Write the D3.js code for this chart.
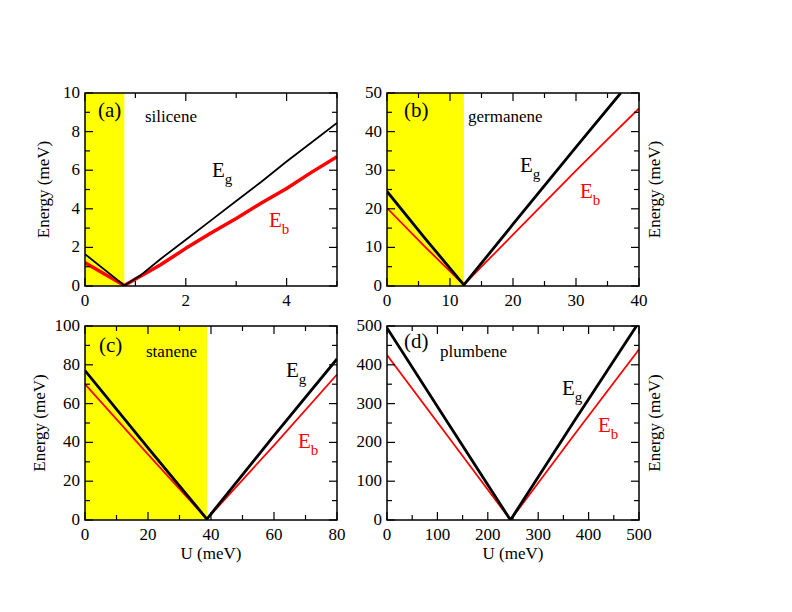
<!DOCTYPE html>
<html>
<head>
<meta charset="utf-8">
<script src="https://cdn.jsdelivr.net/npm/d3@7"></script>
<style>
  body { margin: 0; background: #fff; }
  svg { display: block; }
</style>
</head>
<body>
<svg id="chart" width="792" height="612" font-family="'Liberation Serif', 'Times New Roman', serif"></svg>
<script>
// values (U and energies in meV)
var siliceneEgU = [0, 0.78, 1.1, 1.5, 2.0, 2.5, 3.0, 3.5, 4.0, 4.5, 5.0];
var siliceneEg  = [1.65, 0.03, 0.55, 1.4, 2.4, 3.4, 4.4, 5.4, 6.45, 7.45, 8.45];
var siliceneEbU = [0, 0.78, 1.5, 2.0, 2.5, 3.0, 3.5, 4.0, 4.5, 5.0];
var siliceneEb  = [1.2, 0.03, 1.1, 1.95, 2.75, 3.5, 4.3, 5.05, 5.9, 6.7];

var germaneneEgU = [0, 6, 12.2, 20, 30, 37.1];
var germaneneEg  = [24.5, 12.4, 0.3, 16, 36, 50];
var germaneneEbU = [0, 6, 12.2, 15, 20, 25, 30, 35, 40];
var germaneneEb  = [20.2, 10.2, 0.3, 5, 13.3, 21.6, 29.9, 38, 46];

var staneneU  = [0, 20, 38.7, 60, 80];
var staneneEg = [77, 37.2, 0.5, 43.5, 83];
var staneneEb = [70, 33.8, 0.5, 38.5, 75];

var plumbeneU  = [0, 120, 245, 370, 495, 500];
var plumbeneEg = [495, 252, 0, 252, 500, 510];
var plumbeneEb = [425, 217, 0, 217, 431, 440];

var xTicksA = [0, 1, 2, 3, 4, 5],   yTicksA = [0, 1, 2, 3, 4, 5, 6, 7, 8, 9, 10];
var xTicksB = [0, 5, 10, 15, 20, 25, 30, 35, 40], yTicksB = [0, 5, 10, 15, 20, 25, 30, 35, 40, 45, 50];
var xTicksC = [0, 10, 20, 30, 40, 50, 60, 70, 80], yTicksC = [0, 10, 20, 30, 40, 50, 60, 70, 80, 90, 100];
var xTicksD = [0, 50, 100, 150, 200, 250, 300, 350, 400, 450, 500], yTicksD = [0, 50, 100, 150, 200, 250, 300, 350, 400, 450, 500];

var panelTags  = ["(a)", "(b)", "(c)", "(d)"];
var panelNames = ["silicene", "germanene", "stanene", "plumbene"];
var yellowEnd  = [0.78, 12.2, 38.7, null];

var svg = d3.select("#chart");

function zip(u, e) {
  return u.map(function(d, i) { return [d, e[i]]; });
}

//Draws one panel of the figure
function drawPanel(p) {
  var x = d3.scaleLinear().domain([p.xTicks[0], p.xTicks[p.xTicks.length - 1]]).range([p.left, p.right]);
  var y = d3.scaleLinear().domain([p.yTicks[0], p.yTicks[p.yTicks.length - 1]]).range([p.bottom, p.top]);
  var g = svg.append("g");

  var clipId = "clip" + p.idx;
  g.append("clipPath").attr("id", clipId).append("rect")
    .attr("x", p.left).attr("y", p.top)
    .attr("width", p.right - p.left).attr("height", p.bottom - p.top);

  if (p.yellow != null) {
    g.append("rect")
      .attr("x", x(0)).attr("y", p.top)
      .attr("width", x(p.yellow) - x(0)).attr("height", p.bottom - p.top)
      .attr("fill", "#ffff00");
  }

  var line = d3.line().x(function(d) { return x(d[0]); }).y(function(d) { return y(d[1]); });
  g.append("path").datum(p.eb)
    .attr("d", line).attr("fill", "none").attr("stroke", "#ff0000")
    .attr("stroke-width", p.ebWidth).attr("stroke-linejoin", "round")
    .attr("clip-path", "url(#" + clipId + ")");
  g.append("path").datum(p.eg)
    .attr("d", line).attr("fill", "none").attr("stroke", "#000")
    .attr("stroke-width", p.egWidth).attr("stroke-linejoin", "round")
    .attr("clip-path", "url(#" + clipId + ")");

  // mirrored inward ticks on all four sides
  var tickG = g.append("g").attr("stroke", "#000").attr("stroke-width", 1.2);
  p.xTicks.forEach(function(v, i) {
    var len = i % 2 == 0 ? 8 : 5;
    tickG.append("line").attr("x1", x(v)).attr("x2", x(v)).attr("y1", p.bottom).attr("y2", p.bottom - len);
    tickG.append("line").attr("x1", x(v)).attr("x2", x(v)).attr("y1", p.top).attr("y2", p.top + len);
  });
  p.yTicks.forEach(function(v, i) {
    var len = i % 2 == 0 ? 8 : 5;
    tickG.append("line").attr("y1", y(v)).attr("y2", y(v)).attr("x1", p.left).attr("x2", p.left + len);
    tickG.append("line").attr("y1", y(v)).attr("y2", y(v)).attr("x1", p.right).attr("x2", p.right - len);
  });

  g.append("rect")
    .attr("x", p.left).attr("y", p.top)
    .attr("width", p.right - p.left).attr("height", p.bottom - p.top)
    .attr("fill", "none").attr("stroke", "#000").attr("stroke-width", 1.5);

  // tick labels
  p.xTicks.forEach(function(v, i) {
    if (i % 2 != 0) return;
    if (p.skipLastX && i == p.xTicks.length - 1) return;
    g.append("text").attr("x", x(v)).attr("y", p.bottom + 20)
      .attr("text-anchor", "middle").attr("font-size", 17).text(v);
  });
  p.yTicks.forEach(function(v, i) {
    if (i % 2 != 0) return;
    g.append("text").attr("x", p.left - 5).attr("y", y(v) + 5)
      .attr("text-anchor", "end").attr("font-size", 17).text(v);
  });

  // axis titles
  var ty = (p.top + p.bottom) / 2;
  g.append("text")
    .attr("transform", "translate(" + p.titleX + "," + ty + ") rotate(-90)")
    .attr("text-anchor", "middle").attr("font-size", 17).text("Energy (meV)");
  if (p.showU) {
    g.append("text").attr("x", (p.left + p.right) / 2).attr("y", p.bottom + 39)
      .attr("text-anchor", "middle").attr("font-size", 17).text("U (meV)");
  }

  g.append("text").attr("x", p.tag[0]).attr("y", p.tag[1]).attr("font-size", 21).text(panelTags[p.idx]);
  g.append("text").attr("x", p.name[0]).attr("y", p.name[1]).attr("font-size", 17).text(panelNames[p.idx]);

  var eg = g.append("text").attr("x", p.egLab[0]).attr("y", p.egLab[1]).attr("font-size", 21).attr("fill", "#000");
  eg.append("tspan").text("E");
  eg.append("tspan").attr("font-size", 15).attr("dy", 7).text("g");
  var eb = g.append("text").attr("x", p.ebLab[0]).attr("y", p.ebLab[1]).attr("font-size", 21).attr("fill", "#ff0000");
  eb.append("tspan").text("E");
  eb.append("tspan").attr("font-size", 15).attr("dy", 7).text("b");
}

drawPanel({
  idx: 0, left: 85, right: 337, top: 93, bottom: 286,
  xTicks: xTicksA, yTicks: yTicksA, skipLastX: true, yellow: yellowEnd[0],
  eg: zip(siliceneEgU, siliceneEg), eb: zip(siliceneEbU, siliceneEb), egWidth: 1.8, ebWidth: 3.5,
  titleX: 49, showU: false,
  tag: [98, 117], name: [145, 122], egLab: [212, 177], ebLab: [269, 227]
});
drawPanel({
  idx: 1, left: 387, right: 639, top: 93, bottom: 286,
  xTicks: xTicksB, yTicks: yTicksB, yellow: yellowEnd[1],
  eg: zip(germaneneEgU, germaneneEg), eb: zip(germaneneEbU, germaneneEb), egWidth: 2.8, ebWidth: 1.8,
  titleX: 660, showU: false,
  tag: [404, 117], name: [468, 122], egLab: [520, 172], ebLab: [580, 198]
});
drawPanel({
  idx: 2, left: 85, right: 337, top: 326, bottom: 520,
  xTicks: xTicksC, yTicks: yTicksC, yellow: yellowEnd[2],
  eg: zip(staneneU, staneneEg), eb: zip(staneneU, staneneEb), egWidth: 2.8, ebWidth: 1.8,
  titleX: 45, showU: true,
  tag: [99, 352], name: [146, 357], egLab: [286, 377], ebLab: [298, 448]
});
drawPanel({
  idx: 3, left: 387, right: 639, top: 326, bottom: 520,
  xTicks: xTicksD, yTicks: yTicksD, yellow: yellowEnd[3],
  eg: zip(plumbeneU, plumbeneEg), eb: zip(plumbeneU, plumbeneEb), egWidth: 2.8, ebWidth: 1.8,
  titleX: 660, showU: true,
  tag: [404, 348], name: [440, 357], egLab: [562, 395], ebLab: [598, 432]
});
</script>
</body>
</html>
